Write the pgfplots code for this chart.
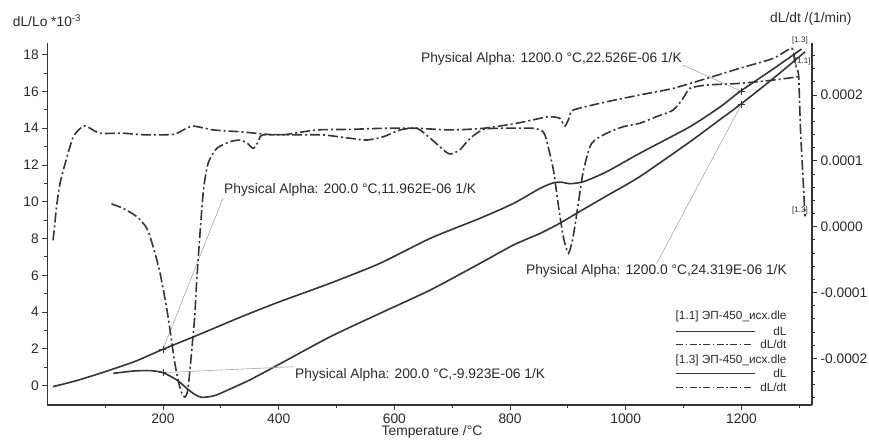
\documentclass[border=0pt]{standalone}
\usepackage{fontspec}
\setmainfont{Liberation Sans}
\usepackage{pgfplots}
\pgfplotsset{compat=1.18}
\definecolor{cv}{HTML}{353535}
\definecolor{tx}{HTML}{2A2A2A}
\definecolor{ld}{HTML}{A8A8A8}
\newcommand\fs{\fontsize{13.8}{16}\selectfont}
\newcommand\fl{\fontsize{11.8}{14}\selectfont}
\newcommand\ft{\fontsize{8}{9}\selectfont}
\tikzset{dd/.style={dash pattern=on 10pt off 3pt on 2pt off 3pt}}
\begin{document}
\begin{tikzpicture}[x=1pt,y=1pt]
\path[use as bounding box] (-47.3,-34) rectangle (821.7,405);
\begin{axis}[
  at={(0,0)}, anchor=south west, scale only axis,
  width=764.7pt, height=362pt,
  xmin=0, xmax=1322, ymin=-1.05, ymax=18.63,
  axis x line*=bottom, axis y line*=left,
  xtick={200,400,...,1200}, minor xtick={100,300,...,1300},
  ytick={0,2,...,18}, minor ytick={1,3,...,17},
  tick align=outside, major tick length=5pt, minor tick length=3pt,
  axis line style={cv, line width=1.3pt, -},
  every tick/.style={cv, line width=0.9pt},
  ticklabel style={font=\fs, text=tx},
  /pgf/number format/assume math mode=true,
  /pgf/number format/1000 sep={},
  clip=false,
]
\addplot[cv, line width=1.6pt, smooth, tension=0.4] coordinates {
(10,-0.05)(50,0.27)(91,0.67)(150,1.30)(200,1.98)(260,2.75)(322,3.57)(350,3.93)
(402,4.57)(489,5.57)(575,6.65)(662,8.01)(748,9.10)(806,9.91)(852,10.73)(875,11.03)
(890,11.06)(903,10.98)(927,11.09)(967,11.63)(1024,12.63)(1111,14.08)(1163,15.15)
(1197,15.98)(1255,17.22)(1304,18.30)};
\addplot[cv, line width=1.6pt, smooth, tension=0.4] coordinates {
(114,0.67)(150,0.80)(178,0.82)(200,0.71)(224,0.31)(241,-0.14)(255,-0.48)(267,-0.63)
(280,-0.60)(293,-0.50)(320,-0.12)(350,0.31)(400,1.15)(489,2.66)(575,3.93)(662,5.20)
(748,6.65)(806,7.65)(852,8.28)(886,8.83)(915,9.37)(967,10.32)(1024,11.36)(1111,13.26)
(1163,14.47)(1197,15.26)(1255,16.70)(1310,18.15)};
\addplot[only marks, mark=+, mark size=3.5pt, mark options={cv, line width=0.6pt}] coordinates {
(200,1.98)(200,0.71)(1200,16.0)(1200,15.3)};
\draw[ld, line width=0.6pt] (axis cs:200,1.98) -- (axis cs:303.7,10.2);
\draw[ld, line width=0.6pt] (axis cs:200,0.71) -- (axis cs:424.7,1.03);
\draw[ld, line width=0.6pt] (axis cs:1200,16.0) -- (axis cs:1098.9,17.43);
\draw[ld, line width=0.6pt] (axis cs:1200,15.3) -- (axis cs:1053.4,6.65);
\end{axis}
\begin{axis}[
  at={(0,0)}, anchor=south west, scale only axis,
  width=764.7pt, height=362pt,
  xmin=0, xmax=1322, ymin=-2.710e-4, ymax=2.792e-4,
  axis x line=none, axis y line*=right,
  ytick={-0.0002,-0.0001,0,0.0001,0.0002},
  yticklabels={-0.0002,-0.0001,0.0000,0.0001,0.0002},
  minor ytick={-0.00026,-0.00024,-0.00022,-0.00018,-0.00016,-0.00014,-0.00012,-0.00008,-0.00006,-0.00004,-0.00002,0.00002,0.00004,0.00006,0.00008,0.00012,0.00014,0.00016,0.00018,0.00022,0.00024,0.00026},
  scaled y ticks=false,
  tick align=outside, major tick length=5pt, minor tick length=3pt,
  axis line style={cv, line width=1.3pt, -},
  every tick/.style={cv, line width=0.9pt},
  ticklabel style={font=\fs, text=tx},
  /pgf/number format/assume math mode=true,
  clip=false,
]
\addplot[cv, line width=1.6pt, dd, smooth, tension=0.4] coordinates {
(10,-0.2072e-4)(13,0.0445e-4)(16,0.3045e-4)(22,0.6596e-4)(31,0.9644e-4)(45,1.3671e-4)
(62,1.5293e-4)(74,1.4957e-4)(91,1.4202e-4)(131,1.4202e-4)(172,1.3951e-4)(218,1.4035e-4)
(235,1.4706e-4)(252,1.5293e-4)(287,1.4706e-4)(333,1.4426e-4)(391,1.3951e-4)(408,1.3951e-4)
(466,1.4706e-4)(523,1.4790e-4)(581,1.4957e-4)(639,1.4957e-4)(696,1.4706e-4)(754,1.4957e-4)
(811,1.5713e-4)(852,1.6468e-4)(869,1.6720e-4)(886,1.6468e-4)(895,1.5293e-4)(903,1.6720e-4)
(909,1.7727e-4)(967,1.8985e-4)(1024,2.0020e-4)(1082,2.1026e-4)(1140,2.2536e-4)(1197,2.4074e-4)
(1255,2.5584e-4)(1287,2.7122e-4)(1292,2.5053e-4)(1296,2.3935e-4)(1299,2.2816e-4)
(1302,1.4986e-4)(1306,0.8145e-4)(1310,0.1563e-4)};
\addplot[cv, line width=1.6pt, dd, smooth, tension=0.4] coordinates {
(111,0.3464e-4)(131,0.2793e-4)(155,0.1507e-4)(172,-0.0255e-4)(183,-0.3052e-4)(195,-0.7078e-4)
(206,-1.22e-4)(213,-1.62e-4)(220,-2.05e-4)(227,-2.37e-4)(233,-2.54e-4)(238,-2.59e-4)
(242,-2.52e-4)(245,-2.32e-4)(248,-2.05e-4)(251,-1.75e-4)(255,-1.35e-4)(258,-0.86e-4)
(264,-0.10e-4)(270,0.56e-4)(278,0.9644e-4)(293,1.1909e-4)(316,1.2915e-4)(333,1.3167e-4)
(345,1.2748e-4)(356,1.1909e-4)(365,1.2915e-4)(373,1.3951e-4)(437,1.3951e-4)(477,1.3951e-4)
(523,1.3447e-4)(552,1.3167e-4)(581,1.3671e-4)(610,1.4706e-4)(639,1.4957e-4)(662,1.3447e-4)
(685,1.1658e-4)(696,1.1043e-4)(713,1.1658e-4)(731,1.3447e-4)(754,1.4790e-4)(783,1.4957e-4)
(840,1.4957e-4)(857,1.4426e-4)(863,1.3167e-4)(875,0.8610e-4)(883,0.3548e-4)(892,-0.1513e-4)
(901,-0.4030e-4)(909,-0.1513e-4)(918,0.3548e-4)(927,0.8610e-4)(941,1.2665e-4)(967,1.4202e-4)
(996,1.5209e-4)(1024,1.5713e-4)(1053,1.6720e-4)(1082,1.7727e-4)(1099,1.9516e-4)(1111,2.1026e-4)
(1140,2.1529e-4)(1197,2.1781e-4)(1255,2.2284e-4)(1298,2.2787e-4)};
\end{axis}
% axis titles
\node[anchor=west, font=\fs, text=tx, inner sep=0pt] at (-34.6,384) {dL/Lo *10\textsuperscript{-3}};
\node[anchor=east, font=\fs, text=tx, inner sep=0pt] at (804.4,386) {dL/dt /(1/min)};
\node[font=\fs, text=tx, inner sep=0pt] at (384.7,-27) {Temperature /°C};
% annotations
\node[anchor=west, font=\fs, text=tx, inner sep=0pt] at (176.7,215) {Physical Alpha: 200.0 °C,11.962E-06 1/K};
\node[anchor=west, font=\fs, text=tx, inner sep=0pt] at (247.7,30) {Physical Alpha: 200.0 °C,-9.923E-06 1/K};
\node[anchor=east, font=\fs, text=tx, inner sep=0pt] at (634.7,346) {Physical Alpha: 1200.0 °C,22.526E-06 1/K};
\node[anchor=east, font=\fs, text=tx, inner sep=0pt] at (739.7,134) {Physical Alpha: 1200.0 °C,24.319E-06 1/K};
% end labels
\node[font=\ft, text=tx, inner sep=0pt] at (752.7,365) {[1.3]};
\node[font=\ft, text=tx, inner sep=0pt] at (755.4,343.3) {[1.1]};
\node[font=\ft, text=tx, inner sep=0pt] at (752.7,195) {[1.3]};
% legend
\node[anchor=east, font=\fl, text=tx, inner sep=0pt] at (739.4,88.3) {[1.1] ЭП-450\_исх.dle};
\draw[cv, line width=0.7pt] (628.7,73.3) -- (707.7,73.3);
\node[anchor=east, font=\fl, text=tx, inner sep=0pt] at (739.4,73.8) {dL};
\draw[cv, line width=0.7pt, dash pattern=on 7pt off 2.5pt on 1.5pt off 2.5pt] (628.7,60.7) -- (704.7,60.7);
\node[anchor=east, font=\fl, text=tx, inner sep=0pt] at (739.4,61.2) {dL/dt};
\node[anchor=east, font=\fl, text=tx, inner sep=0pt] at (739.4,45) {[1.3] ЭП-450\_исх.dle};
\draw[cv, line width=0.7pt] (628.7,31.7) -- (707.7,31.7);
\node[anchor=east, font=\fl, text=tx, inner sep=0pt] at (739.4,32.2) {dL};
\draw[cv, line width=0.7pt, dash pattern=on 7pt off 2.5pt on 1.5pt off 2.5pt] (628.7,17.7) -- (704.7,17.7);
\node[anchor=east, font=\fl, text=tx, inner sep=0pt] at (739.4,18.2) {dL/dt};
\end{tikzpicture}
\end{document}
